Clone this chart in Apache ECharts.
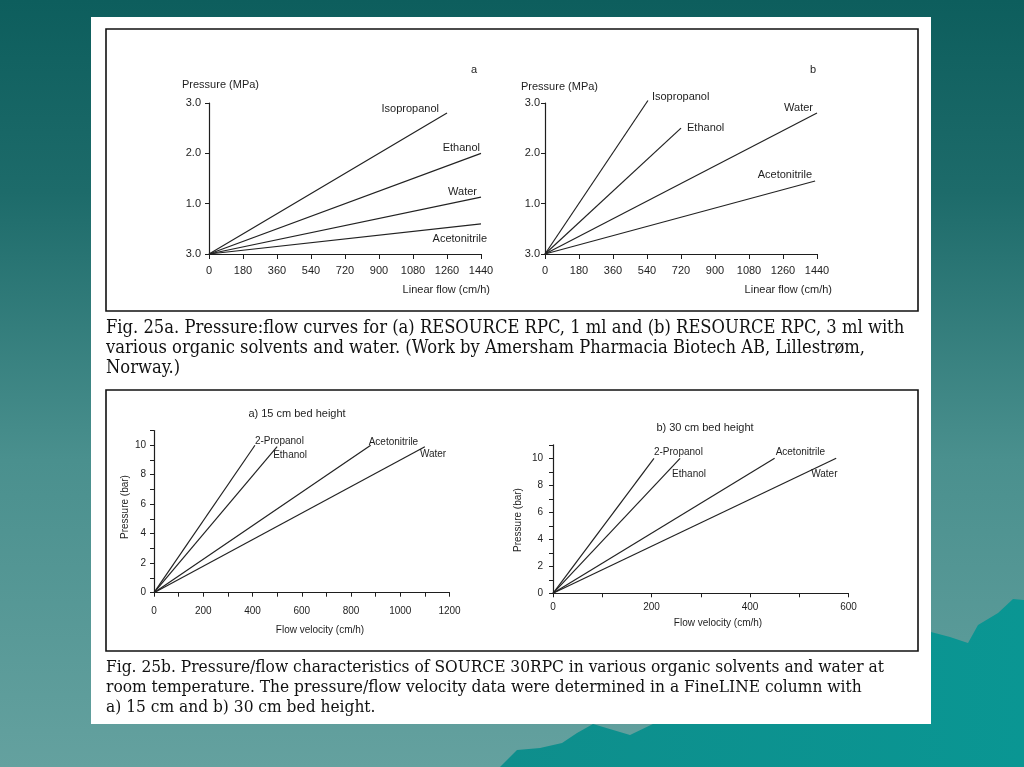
<!DOCTYPE html>
<html>
<head>
<meta charset="utf-8">
<script src="https://cdn.jsdelivr.net/npm/echarts@6/dist/echarts.min.js"></script>
<style>
html,body{margin:0;padding:0;background:#0e5f5f;}
#chart{width:1024px;height:767px;}
</style>
</head>
<body>
<div id="chart"></div>
<script>
// ---------- DATA ----------
// Fig. 25a (a) RESOURCE RPC 1 ml
const solvents25a = ['Isopropanol', 'Ethanol', 'Water', 'Acetonitrile'];
const endFlow25a1 = [1260, 1440, 1440, 1440];
const endPress25a1 = [2.8, 2.0, 1.13, 0.6];
// Fig. 25a (b) RESOURCE RPC 3 ml
const endFlow25a3 = [545, 720, 1440, 1430];
const endPress25a3 = [3.05, 2.5, 2.8, 1.45];
// tick labels as printed (bottom label printed as "3.0")
const mpaTickLabels = ['3.0', '1.0', '2.0', '3.0'];
const linearFlowTicks = [0, 180, 360, 540, 720, 900, 1080, 1260, 1440];

// Fig. 25b SOURCE 30RPC
const solvents25b = ['2-Propanol', 'Ethanol', 'Acetonitrile', 'Water'];
const endFlow15 = [410, 500, 880, 1100];
const endPress15 = [10, 9.9, 10, 9.9];
const endFlow30 = [205, 258, 450, 575];
const endPress30 = [10, 10, 10, 10];
const barTickLabels = [0, 2, 4, 6, 8, 10];
const velTicks15 = [0, 200, 400, 600, 800, 1000, 1200];
const velTicks30 = [0, 200, 400, 600];

const caption25a = [
  'Fig. 25a. Pressure:flow curves for (a) RESOURCE RPC, 1 ml and (b) RESOURCE RPC, 3 ml with',
  'various organic solvents and water. (Work by Amersham Pharmacia Biotech AB, Lillestrøm,',
  'Norway.)'
];
const caption25b = [
  'Fig. 25b. Pressure/flow characteristics of SOURCE 30RPC in various organic solvents and water at',
  'room temperature. The pressure/flow velocity data were determined in a FineLINE column with',
  'a) 15 cm and b) 30 cm bed height.'
];

// ---------- STYLE / LAYOUT ----------
const SANS = '"Liberation Sans", Arial, sans-serif';
const SERIF = '"DejaVu Serif Condensed", "DejaVu Serif", serif';
const INK = '#1e1e1e';

// label placement per series (styling only)
const lbl25a1 = [
  {position: 'left', offset: [-8, -4]},
  {position: 'left', offset: [-1, -5]},
  {position: 'left', offset: [-4, -5]},
  {position: 'left', offset: [6, 15]}
];
const lbl25a3 = [
  {position: 'right', offset: [4, -4]},
  {position: 'right', offset: [6, 0]},
  {position: 'left', offset: [-4, -5]},
  {position: 'left', offset: [-3, -6]}
];
const lbl15 = [
  {position: 'right', offset: [0, -4]},
  {position: 'right', offset: [-4, 9]},
  {position: 'right', offset: [-2, -3]},
  {position: 'right', offset: [-5, 8]}
];
const lbl30 = [
  {position: 'right', offset: [0, -6]},
  {position: 'right', offset: [-8, 16]},
  {position: 'right', offset: [1, -6]},
  {position: 'right', offset: [-25, 16]}
];

function makeSeries(names, flows, presses, lbls, axisIndex, fontSize) {
  return names.map((n, i) => ({
    type: 'line',
    name: n,
    xAxisIndex: axisIndex,
    yAxisIndex: axisIndex,
    showSymbol: true,
    symbolSize: 0,
    symbol: 'circle',
    clip: false,
    silent: true,
    animation: false,
    lineStyle: {color: '#222', width: 1.2},
    itemStyle: {color: '#222'},
    data: [
      [0, 0],
      {
        value: [flows[i], presses[i]],
        label: {
          show: true,
          formatter: n,
          position: lbls[i].position,
          distance: 0,
          offset: lbls[i].offset,
          color: INK,
          fontFamily: SANS,
          fontSize: fontSize
        }
      }
    ]
  }));
}

const axLine = {show: true, lineStyle: {color: INK, width: 1.2}};

const option = {
  animation: false,
  backgroundColor: 'transparent',
  grid: [
    {left: 209, top: 103, width: 272, height: 151},
    {left: 545, top: 103, width: 272, height: 151},
    {left: 154, top: 430.5, width: 295.5, height: 162.2},
    {left: 553, top: 444.8, width: 295.5, height: 148.5}
  ],
  xAxis: [
    {gridIndex: 0, type: 'value', min: 0, max: 1440, interval: 180,
     axisLine: axLine, axisTick: {show: true, length: 5, lineStyle: {color: INK}},
     splitLine: {show: false},
     axisLabel: {color: INK, fontFamily: SANS, fontSize: 11, margin: 11,
       formatter: v => linearFlowTicks.includes(v) ? String(v) : ''}},
    {gridIndex: 1, type: 'value', min: 0, max: 1440, interval: 180,
     axisLine: axLine, axisTick: {show: true, length: 5, lineStyle: {color: INK}},
     splitLine: {show: false},
     axisLabel: {color: INK, fontFamily: SANS, fontSize: 11, margin: 11,
       formatter: v => linearFlowTicks.includes(v) ? String(v) : ''}},
    {gridIndex: 2, type: 'value', min: 0, max: 1200, interval: 100,
     axisLine: axLine, axisTick: {show: true, length: 4, lineStyle: {color: INK}},
     splitLine: {show: false},
     axisLabel: {color: INK, fontFamily: SANS, fontSize: 10, margin: 14,
       formatter: v => velTicks15.includes(v) ? String(v) : ''}},
    {gridIndex: 3, type: 'value', min: 0, max: 600, interval: 100,
     axisLine: axLine, axisTick: {show: true, length: 4, lineStyle: {color: INK}},
     splitLine: {show: false},
     axisLabel: {color: INK, fontFamily: SANS, fontSize: 10, margin: 9,
       formatter: v => velTicks30.includes(v) ? String(v) : ''}}
  ],
  yAxis: [
    {gridIndex: 0, type: 'value', min: 0, max: 3, interval: 1,
     axisLine: axLine, axisTick: {show: true, length: 4, lineStyle: {color: INK}},
     splitLine: {show: false},
     axisLabel: {color: INK, fontFamily: SANS, fontSize: 11, margin: 8,
       formatter: v => mpaTickLabels[v]}},
    {gridIndex: 1, type: 'value', min: 0, max: 3, interval: 1,
     axisLine: axLine, axisTick: {show: true, length: 4, lineStyle: {color: INK}},
     splitLine: {show: false},
     axisLabel: {color: INK, fontFamily: SANS, fontSize: 11, margin: 5,
       formatter: v => mpaTickLabels[v]}},
    {gridIndex: 2, type: 'value', min: 0, max: 11, interval: 1,
     axisLine: axLine, axisTick: {show: true, length: 4, lineStyle: {color: INK}},
     splitLine: {show: false},
     axisLabel: {color: INK, fontFamily: SANS, fontSize: 10, margin: 8,
       formatter: v => barTickLabels.includes(v) ? String(v) : ''}},
    {gridIndex: 3, type: 'value', min: 0, max: 11, interval: 1,
     axisLine: axLine, axisTick: {show: true, length: 4, lineStyle: {color: INK}},
     splitLine: {show: false},
     axisLabel: {color: INK, fontFamily: SANS, fontSize: 10, margin: 10,
       formatter: v => barTickLabels.includes(v) ? String(v) : ''}}
  ],
  series: [].concat(
    makeSeries(solvents25a, endFlow25a1, endPress25a1, lbl25a1, 0, 11),
    makeSeries(solvents25a, endFlow25a3, endPress25a3, lbl25a3, 1, 11),
    makeSeries(solvents25b, endFlow15, endPress15, lbl15, 2, 10),
    makeSeries(solvents25b, endFlow30, endPress30, lbl30, 3, 10)
  ),
  graphic: [
    // slide background
    {type: 'rect', z: -100, silent: true, shape: {x: 0, y: 0, width: 1024, height: 767},
     style: {fill: {type: 'linear', x: 0, y: 0, x2: 0, y2: 1, colorStops: [
       {offset: 0, color: '#0d5e5d'}, {offset: 0.25, color: '#1d6b6a'},
       {offset: 0.6, color: '#4a908e'}, {offset: 1, color: '#64a19f'}]}}},
    // mountains
    {type: 'polygon', z: -90, silent: true,
     shape: {points: [[500, 767], [517, 750], [540, 748], [562, 743], [577, 733], [593, 724],
       [630, 735], [657, 722], [760, 680], [931, 632], [950, 637], [968, 643], [978, 625],
       [998, 613], [1013, 599], [1024, 600], [1024, 767]]},
     style: {fill: {type: 'linear', x: 0, y: 0, x2: 1, y2: 0, colorStops: [
       {offset: 0, color: '#0e8e8c'}, {offset: 1, color: '#0a9693'}]}}},
    // white page
    {type: 'rect', z: -80, silent: true, shape: {x: 91, y: 17, width: 840, height: 707},
     style: {fill: '#ffffff'}},
    // figure boxes
    {type: 'rect', z: -70, silent: true, shape: {x: 106, y: 29, width: 812, height: 282},
     style: {fill: 'none', stroke: '#111', lineWidth: 1.6}},
    {type: 'rect', z: -70, silent: true, shape: {x: 106, y: 390, width: 812, height: 261},
     style: {fill: 'none', stroke: '#111', lineWidth: 1.6}},
    // panel letters and axis titles, Fig 25a
    {type: 'text', z: 10, style: {x: 474, y: 70, text: 'a', fill: INK, font: '11px ' + SANS, align: 'center', verticalAlign: 'middle'}},
    {type: 'text', z: 10, style: {x: 813, y: 70, text: 'b', fill: INK, font: '11px ' + SANS, align: 'center', verticalAlign: 'middle'}},
    {type: 'text', z: 10, style: {x: 182, y: 85, text: 'Pressure (MPa)', fill: INK, font: '11px ' + SANS, align: 'left', verticalAlign: 'middle'}},
    {type: 'text', z: 10, style: {x: 521, y: 87, text: 'Pressure (MPa)', fill: INK, font: '11px ' + SANS, align: 'left', verticalAlign: 'middle'}},
    {type: 'text', z: 10, style: {x: 490, y: 290, text: 'Linear flow (cm/h)', fill: INK, font: '11px ' + SANS, align: 'right', verticalAlign: 'middle'}},
    {type: 'text', z: 10, style: {x: 832, y: 290, text: 'Linear flow (cm/h)', fill: INK, font: '11px ' + SANS, align: 'right', verticalAlign: 'middle'}},
    // Fig 25b titles
    {type: 'text', z: 10, style: {x: 297, y: 414, text: 'a) 15 cm bed height', fill: INK, font: '11px ' + SANS, align: 'center', verticalAlign: 'middle'}},
    {type: 'text', z: 10, style: {x: 705, y: 428, text: 'b) 30 cm bed height', fill: INK, font: '11px ' + SANS, align: 'center', verticalAlign: 'middle'}},
    {type: 'text', z: 10, style: {x: 320, y: 630, text: 'Flow velocity (cm/h)', fill: INK, font: '10px ' + SANS, align: 'center', verticalAlign: 'middle'}},
    {type: 'text', z: 10, style: {x: 718, y: 623, text: 'Flow velocity (cm/h)', fill: INK, font: '10px ' + SANS, align: 'center', verticalAlign: 'middle'}},
    {type: 'text', z: 10, x: 125, y: 507, rotation: Math.PI / 2,
     style: {x: 0, y: 0, text: 'Pressure (bar)', fill: INK, font: '10px ' + SANS, align: 'center', verticalAlign: 'middle'}},
    {type: 'text', z: 10, x: 518, y: 520, rotation: Math.PI / 2,
     style: {x: 0, y: 0, text: 'Pressure (bar)', fill: INK, font: '10px ' + SANS, align: 'center', verticalAlign: 'middle'}}
  ].concat(
    caption25a.map((t, i) => ({type: 'text', z: 10,
      style: {x: 106, y: 328 + i * 20, text: t, fill: '#111', font: '18.2px ' + SERIF, align: 'left', verticalAlign: 'middle'}})),
    caption25b.map((t, i) => ({type: 'text', z: 10,
      style: {x: 106, y: 668 + i * 20, text: t, fill: '#111', font: '17.2px ' + SERIF, align: 'left', verticalAlign: 'middle'}}))
  )
};

const chart = echarts.init(document.getElementById('chart'), null, {renderer: 'canvas'});
chart.setOption(option);
</script>
</body>
</html>
